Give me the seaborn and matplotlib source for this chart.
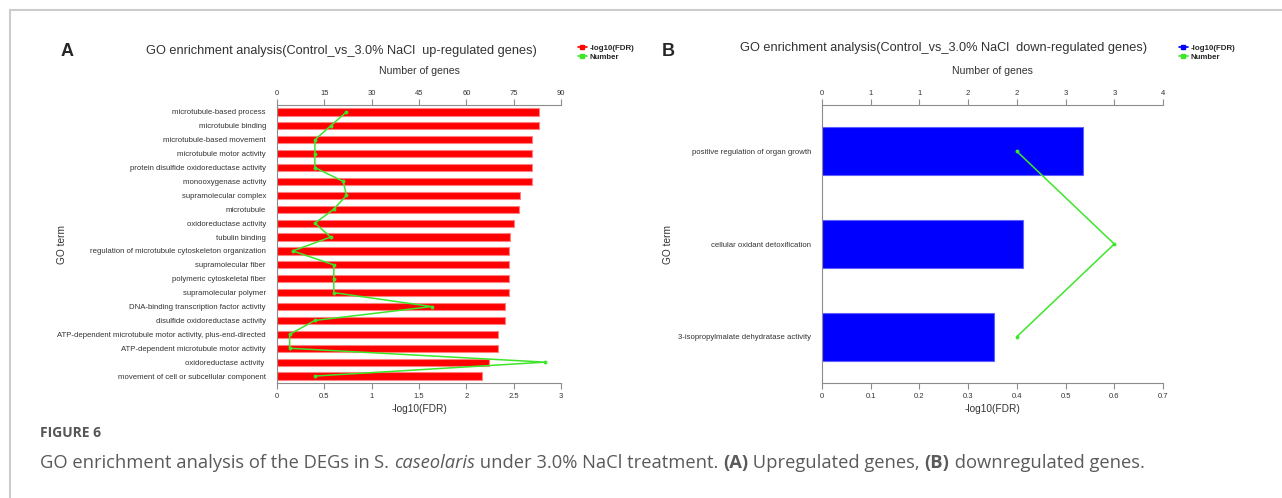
import numpy as np
import pandas as pd
import matplotlib
matplotlib.use("Agg")
import matplotlib.pyplot as plt
import seaborn as sns
from matplotlib.lines import Line2D
from matplotlib.ticker import FixedLocator

sns.set_style("white")
plt.rcParams["font.family"] = ["Liberation Sans", "DejaVu Sans"]

# ---- data ----
up_terms = [
    "microtubule-based process",
    "microtubule binding",
    "microtubule-based movement",
    "microtubule motor activity",
    "protein disulfide oxidoreductase activity",
    "monooxygenase activity",
    "supramolecular complex",
    "microtubule",
    "oxidoreductase activity",
    "tubulin binding",
    "regulation of microtubule cytoskeleton organization",
    "supramolecular fiber",
    "polymeric cytoskeletal fiber",
    "supramolecular polymer",
    "DNA-binding transcription factor activity",
    "disulfide oxidoreductase activity",
    "ATP-dependent microtubule motor activity, plus-end-directed",
    "ATP-dependent microtubule motor activity",
    "oxidoreductase activity ",
    "movement of cell or subcellular component",
]
up_fdr = [2.77, 2.77, 2.69, 2.69, 2.69, 2.69, 2.57, 2.56, 2.50, 2.46,
          2.45, 2.45, 2.45, 2.45, 2.41, 2.41, 2.33, 2.33, 2.24, 2.17]
up_number = [22, 17, 12, 12, 12, 21, 22, 18, 12, 17,
             5, 18, 18, 18, 49, 12, 4, 4, 85, 12]
up_fdr_ticks = [0, 0.5, 1, 1.5, 2, 2.5, 3]
up_fdr_labels = ["0", "0.5", "1", "1.5", "2", "2.5", "3"]
up_num_ticks = [0, 15, 30, 45, 60, 75, 90]
up_num_labels = ["0", "15", "30", "45", "60", "75", "90"]

down_terms = [
    "positive regulation of organ growth",
    "cellular oxidant detoxification",
    "3-isopropylmalate dehydratase activity",
]
down_fdr = [0.535, 0.413, 0.354]
down_number = [2, 3, 2]
down_fdr_ticks = [0, 0.1, 0.2, 0.3, 0.4, 0.5, 0.6, 0.7]
down_fdr_labels = ["0", "0.1", "0.2", "0.3", "0.4", "0.5", "0.6", "0.7"]
down_num_ticks = [0, 0.5, 1, 1.5, 2, 2.5, 3, 3.5]
down_num_labels = ["0", "1", "1", "2", "2", "3", "3", "4"]

W, H = 1282, 498
GREEN = "#3ee62a"
AXC = "#8c8c8c"
TXT = "#333333"


def px(x, y):
    return x / W, 1 - y / H


def draw_panel(fig, rect, terms, fdr, number, bar_color, edge_color,
               fdr_ticks, fdr_labels, fdr_max, num_ticks, num_labels, num_max,
               ylabel_x):
    ax = fig.add_axes(rect)
    df = pd.DataFrame({"term": terms, "fdr": fdr})
    sns.barplot(data=df, x="fdr", y="term", orient="h", color=bar_color,
                width=0.52, saturation=1, edgecolor=edge_color, linewidth=0.8, ax=ax)
    n = len(terms)
    ax.set_xlim(0, fdr_max)
    ax.set_ylim(n - 0.5, -0.5)
    ax.set_xticks(fdr_ticks)
    ax.set_xticklabels(fdr_labels, fontsize=5.5, color=TXT)
    ax.tick_params(axis="y", which="major", length=0, labelsize=5.6, labelcolor=TXT, pad=8)
    ax.yaxis.set_minor_locator(FixedLocator(np.arange(-0.5, n)))
    ax.tick_params(axis="y", which="minor", length=4, color=AXC, width=0.8)
    ax.tick_params(axis="x", length=4, color=AXC, width=0.8, pad=3)
    ax.set_xlabel("-log10(FDR)", fontsize=7.3, color=TXT, labelpad=3)
    ax.set_ylabel("GO term", fontsize=7.3, color=TXT)
    # y label sits at a fixed place, not beyond the longest term
    x0 = rect[0] * W
    ax.yaxis.set_label_coords((ylabel_x - x0) / (rect[2] * W), 0.5)
    for s in ["right", "top"]:
        ax.spines[s].set_visible(False)
    for s in ["left", "bottom"]:
        ax.spines[s].set_color(AXC)
        ax.spines[s].set_linewidth(0.8)

    ax2 = ax.twiny()
    ax2.plot(number, np.arange(n), color=GREEN, lw=1.1, marker="o", ms=2.8,
             markeredgewidth=0)
    ax2.set_xlim(0, num_max)
    ax2.set_xticks(num_ticks)
    ax2.set_xticklabels(num_labels, fontsize=5.5, color=TXT)
    ax2.tick_params(axis="x", length=4, color=AXC, width=0.8, pad=2)
    ax2.set_xlabel("Number of genes", fontsize=7.6, color=TXT, labelpad=11)
    for s in ["right", "left", "bottom"]:
        ax2.spines[s].set_visible(False)
    ax2.spines["top"].set_color(AXC)
    ax2.spines["top"].set_linewidth(0.8)
    ax2.grid(False)
    ax.grid(False)
    return ax, ax2


fig = plt.figure(figsize=(W / 100, H / 100), dpi=100)

top, bot = 105, 383
draw_panel(fig, [277 / W, 1 - bot / H, 284 / W, (bot - top) / H],
           up_terms, up_fdr, up_number, "#ff0000", "#ff8080",
           up_fdr_ticks, up_fdr_labels, 3, up_num_ticks, up_num_labels, 90, 67)
draw_panel(fig, [822 / W, 1 - bot / H, 341 / W, (bot - top) / H],
           down_terms, down_fdr, down_number, "#0000ff", "#6060ff",
           down_fdr_ticks, down_fdr_labels, 0.7, down_num_ticks, down_num_labels, 3.5, 673)

# panel letters and titles
fig.text(*px(61, 52), "A", fontsize=13, fontweight="bold", va="center", ha="left")
fig.text(*px(662, 52), "B", fontsize=13, fontweight="bold", va="center", ha="left")
fig.text(*px(341, 51), "GO enrichment analysis(Control_vs_3.0% NaCl  up-regulated genes)",
         fontsize=9.2, color=TXT, ha="center", va="center")
fig.text(*px(944, 48), "GO enrichment analysis(Control_vs_3.0% NaCl  down-regulated genes)",
         fontsize=9.2, color=TXT, ha="center", va="center")

# legends
for (lx, ly), col in [((574, 40), "#ff0000"), ((1175, 40), "#0000ff")]:
    handles = [
        Line2D([], [], color=col, marker="s", ms=3.5, lw=1.2),
        Line2D([], [], color=GREEN, marker="s", ms=3.5, lw=1.2),
    ]
    fig.legend(handles, ["-log10(FDR)", "Number"], loc="upper left",
               bbox_to_anchor=px(lx, ly), frameon=False, handlelength=1.1,
               handletextpad=0.4, labelspacing=0.25, borderpad=0,
               prop={"size": 5.7, "weight": "bold"})

# frame lines
fig.add_artist(Line2D([10 / W, 10 / W], [0, 1 - 10 / H], color="#cccccc", lw=1.5))
fig.add_artist(Line2D([10 / W, 1], [1 - 10 / H, 1 - 10 / H], color="#cccccc", lw=1.5))

# caption
fig.text(*px(40, 433), "FIGURE 6", fontsize=10, fontweight="bold", color="#555555",
         family=["Open Sans", "DejaVu Sans"], va="center")

pieces = [
    ("GO enrichment analysis of the DEGs in ", "normal", "normal"),
    ("S. ", "normal", "normal"),
    ("caseolaris", "normal", "italic"),
    (" under 3.0% NaCl treatment. ", "normal", "normal"),
    ("(A)", "bold", "normal"),
    (" Upregulated genes, ", "normal", "normal"),
    ("(B)", "bold", "normal"),
    (" downregulated genes.", "normal", "normal"),
]
fig.canvas.draw()
renderer = fig.canvas.get_renderer()
x0, y0 = px(40, 463)
for txt, wt, st in pieces:
    t = fig.text(x0, y0, txt, fontsize=13.25, color="#5a5a5a", fontweight=wt, fontstyle=st,
                 family=["Open Sans", "DejaVu Sans"], va="center", ha="left")
    bb = t.get_window_extent(renderer=renderer)
    x0 += bb.width / W

fig.savefig("out.png", dpi=100)
